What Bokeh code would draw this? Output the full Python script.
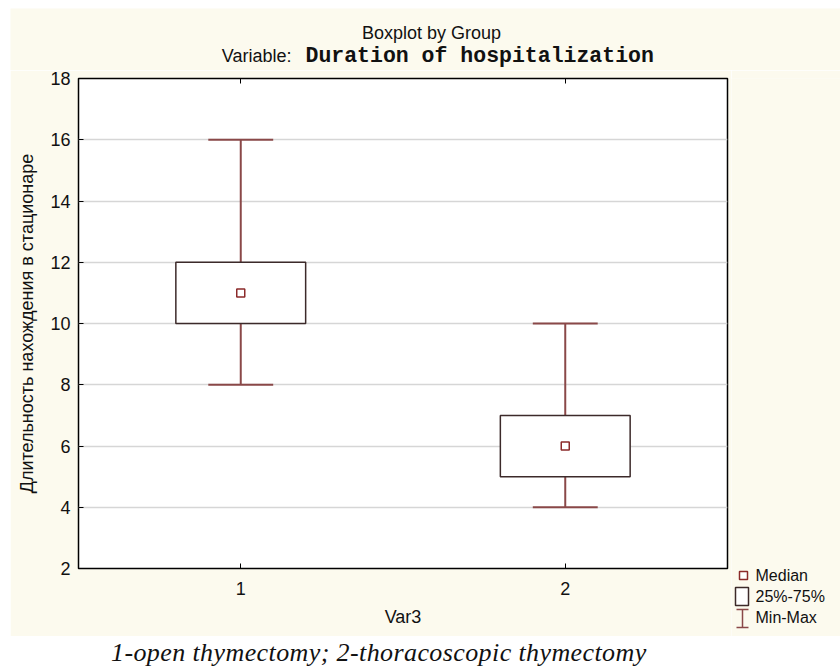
from bokeh.plotting import figure
from bokeh.models import Range1d, FixedTicker, LinearAxis, Div, ColumnDataSource
from bokeh.layouts import column, row
from bokeh.core.properties import value
from bokeh.embed import file_html
from bokeh.resources import INLINE

# ---- data ----
groups = [1, 2]
mins = [8, 4]
q1 = [10, 5]
medians = [11, 6]
q3 = [12, 7]
maxs = [16, 10]
y_ticks = [2, 4, 6, 8, 10, 12, 14, 16, 18]
x_labels = {1: "1", 2: "2"}
legend_labels = ["Median", "25%-75%", "Min-Max"]
title_main = "Boxplot by Group"
title_var_prefix = "Variable:"
title_var_name = "Duration of hospitalization"
y_label = "Длительность нахождения в стационаре"
x_label = "Var3"
caption_text = "1-open thymectomy; 2-thoracoscopic thymectomy"

CREAM = "#fcfaee"
WHISK = "#8a4848"
BOXC = "#3c2a2a"
MEDC = "#8b2a2a"
TXT = "#111111"
SANS = "Liberation Sans"

BOX_W = 0.4
CAP_W = 0.2


def blank(fig, bg):
    fig.axis.visible = False
    fig.grid.visible = False
    fig.outline_line_color = None
    fig.background_fill_color = bg
    fig.border_fill_color = bg
    fig.min_border = 0
    fig.min_border_left = 0
    fig.min_border_right = 0
    fig.min_border_top = 0
    fig.min_border_bottom = 0


# ---- header (titles) ----
hdr = figure(frame_width=830, frame_height=62, x_range=Range1d(0, 830), y_range=Range1d(62, 0),
             output_backend="svg", toolbar_location=None)
blank(hdr, CREAM)
hdr.text(x=[421], y=[24], text=[title_main], text_font=value(SANS), text_font_size="18px",
         text_align="center", text_baseline="middle", text_color=TXT)
hdr.text(x=[281], y=[47], text=[title_var_prefix], text_font=value(SANS), text_font_size="18px",
         text_align="right", text_baseline="middle", text_color=TXT)
hdr.text(x=[295], y=[47], text=[title_var_name], text_font=value("Liberation Mono"),
         text_font_size="21.5px", text_font_style="bold",
         text_align="left", text_baseline="middle", text_color=TXT)

# ---- main plot ----
src = ColumnDataSource(dict(
    x=groups, mn=mins, q1=q1, med=medians, q3=q3, mx=maxs,
    cl=[g - CAP_W / 2 for g in groups], cr=[g + CAP_W / 2 for g in groups],
))

p = figure(frame_width=649, frame_height=490, x_range=Range1d(0.5, 2.5), y_range=Range1d(2, 18),
           output_backend="svg", toolbar_location=None,
           min_border_left=68, min_border_right=4, min_border_top=8, min_border_bottom=68)
p.background_fill_color = "white"
p.border_fill_color = CREAM
p.outline_line_color = "black"
p.outline_line_width = 1.5

p.xgrid.visible = False
p.ygrid.ticker = FixedTicker(ticks=y_ticks)
p.ygrid.grid_line_color = "#d6d6d6"
p.ygrid.grid_line_width = 1.5

p.xaxis.ticker = FixedTicker(ticks=groups)
p.xaxis.major_label_overrides = x_labels
p.xaxis.axis_label = x_label
p.yaxis.ticker = FixedTicker(ticks=y_ticks)
p.yaxis.axis_label = y_label
for ax in (p.xaxis[0], p.yaxis[0]):
    ax.axis_line_color = None
    ax.major_tick_line_color = "black"
    ax.major_tick_in = 5
    ax.major_tick_out = 0
    ax.minor_tick_line_color = None
    ax.major_label_text_font = SANS
    ax.major_label_text_font_size = "18px"
    ax.major_label_text_color = TXT
    ax.axis_label_text_font = SANS
    ax.axis_label_text_font_size = "18px"
    ax.axis_label_text_font_style = "normal"
    ax.axis_label_text_color = TXT
p.xaxis.major_label_standoff = 13
p.xaxis.axis_label_standoff = 9
p.yaxis.major_label_standoff = 8
p.yaxis.axis_label_standoff = 10

top_ax = LinearAxis(ticker=FixedTicker(ticks=groups), major_label_overrides={1: "", 2: ""},
                    axis_line_color=None, major_tick_in=5, major_tick_out=0,
                    minor_tick_line_color=None, major_tick_line_color="black",
                    major_label_text_font_size="1px")
p.add_layout(top_ax, "above")

# whiskers
p.segment(x0="x", y0="q3", x1="x", y1="mx", source=src, line_color=WHISK, line_width=2)
p.segment(x0="x", y0="mn", x1="x", y1="q1", source=src, line_color=WHISK, line_width=2)
p.segment(x0="cl", y0="mx", x1="cr", y1="mx", source=src, line_color=WHISK, line_width=2)
p.segment(x0="cl", y0="mn", x1="cr", y1="mn", source=src, line_color=WHISK, line_width=2)
# boxes
p.vbar(x="x", width=BOX_W, bottom="q1", top="q3", source=src,
       fill_color="white", line_color=BOXC, line_width=1.5)
# medians
p.scatter(x="x", y="med", source=src, marker="square", size=8,
          fill_color="white", line_color=MEDC, line_width=1.5)

# ---- legend panel ----
lg = figure(frame_width=109, frame_height=566, x_range=Range1d(0, 109), y_range=Range1d(566, 0),
            output_backend="svg", toolbar_location=None)
blank(lg, CREAM)
lg.scatter(x=[12], y=[497], marker="square", size=8, fill_color="white",
           line_color=MEDC, line_width=1.5)
lg.quad(left=[4], right=[17], top=[509], bottom=[527], fill_color="white",
        line_color=BOXC, line_width=1.5)
lg.segment(x0=[11, 5, 5], y0=[531, 531, 549], x1=[11, 17, 17], y1=[549, 531, 549],
           line_color=WHISK, line_width=1.5)
lg.text(x=[24, 24, 24], y=[497, 518, 539], text=legend_labels, text_font=value(SANS),
        text_font_size="16px", text_baseline="middle", text_align="left", text_color=TXT)

caption = Div(text=caption_text, width=830, height=30,
              styles={"font-family": "Liberation Serif", "font-style": "italic",
                      "font-size": "26px", "padding-left": "96px", "line-height": "24px",
                      "letter-spacing": "0.4px",
                      "color": TXT, "background-color": "white", "white-space": "nowrap",
                      "overflow": "visible"})

layout = column(hdr, row(p, lg, spacing=0), caption, spacing=0, margin=(8, 0, 0, 10))
open("out.html", "w").write(file_html(layout, INLINE))
